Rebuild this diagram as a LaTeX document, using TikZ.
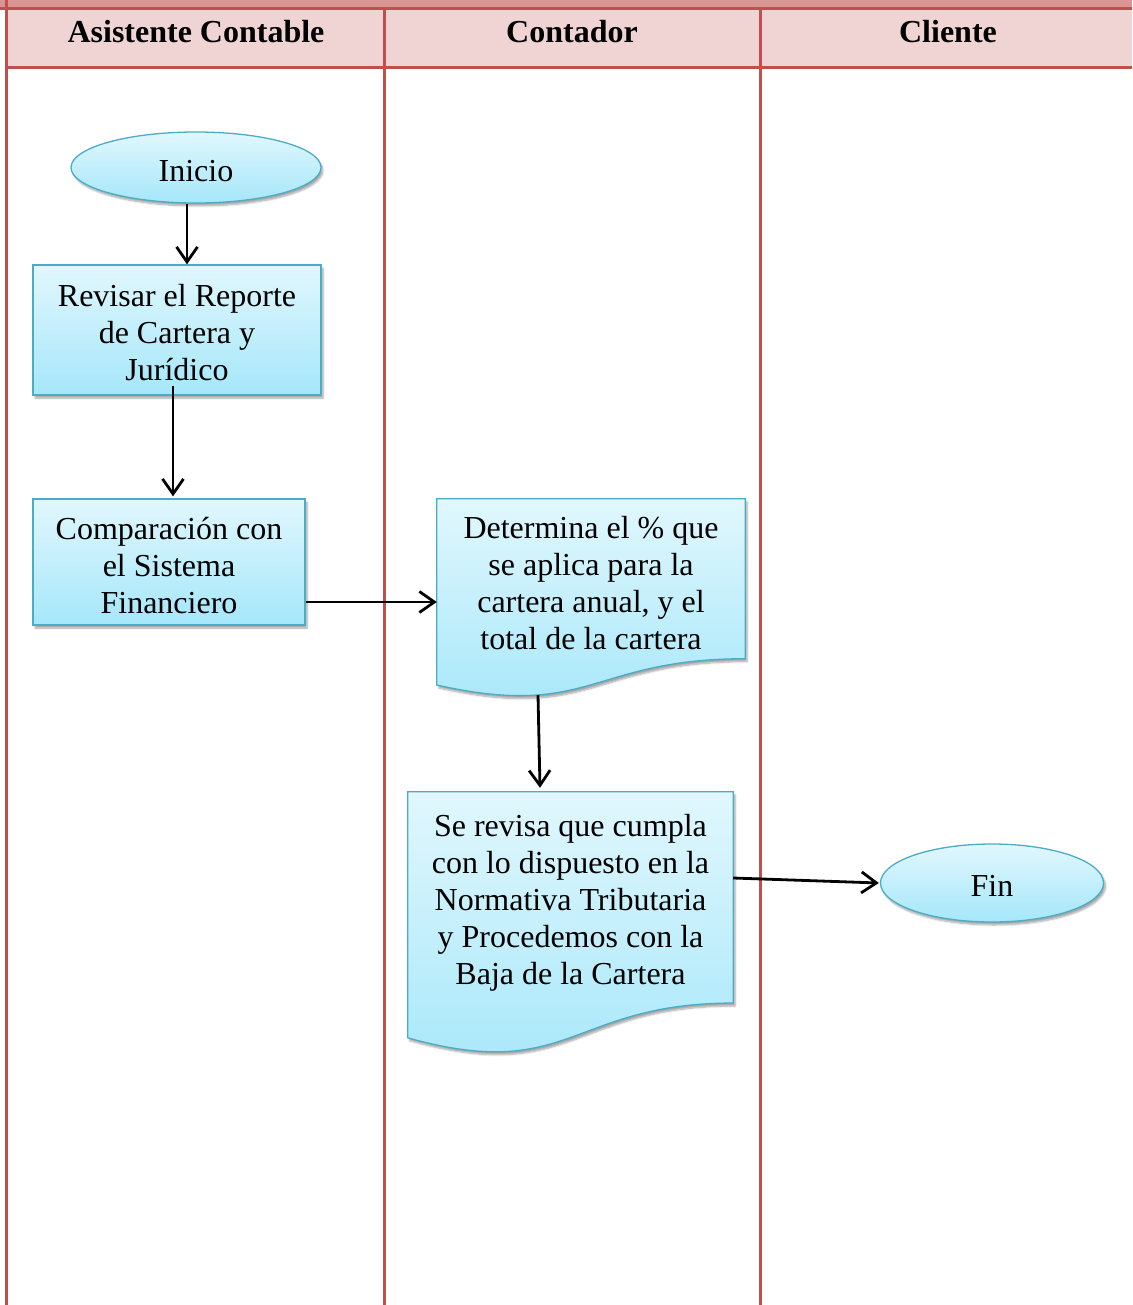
\documentclass[tikz,border=0pt]{standalone}
\usepackage{fontspec}
\setmainfont{Liberation Serif}
\usetikzlibrary{calc,shapes.geometric,arrows.meta,shadows.blur}

\definecolor{lanered}{HTML}{C0504D}
\definecolor{headfill}{HTML}{F0D3D3}
\definecolor{topband}{HTML}{D99594}
\definecolor{shapeblue}{HTML}{4BACC6}
\definecolor{shadetop}{HTML}{E1F7FD}
\definecolor{shadebot}{HTML}{A5E7FA}

\tikzset{
  laneline/.style={draw=lanered, line width=3pt},
  headtext/.style={font=\fontsize{32}{37}\selectfont\bfseries, anchor=center},
  flowfill/.style={draw=shapeblue, line width=1.3pt, top color=shadetop, bottom color=shadebot,
    blur shadow={shadow xshift=2pt, shadow yshift=-3pt, shadow blur steps=6, shadow opacity=35}},
  flowtext/.style={font=\fontsize{32}{37}\selectfont, align=center, inner sep=0pt},
  procbox/.style={flowfill, rectangle},
  terminal/.style={flowfill, ellipse},
  docframe/.style={rectangle, draw=none, inner sep=0pt},
  arr/.style={draw=black, line width=2.8pt, -{Straight Barb[length=15pt,width=21pt,line width=2.8pt]}},
}

% flowchart "document" symbol drawn over a framing rectangle node
\newcommand{\docshape}[1]{%
  \path[flowfill] (#1.north west) -- (#1.north east)
    -- ($(#1.north east)!0.802!(#1.south east)$)
    .. controls ($(#1.north)!0.802!(#1.south)$) and ($(#1.north)!1.107!(#1.south)$)
    .. ($(#1.north west)!0.934!(#1.south west)$) -- cycle;}

\begin{document}
\begin{tikzpicture}[x=1pt,y=-1pt]
\useasboundingbox (0,0) rectangle (1132,1305);

% header band and lane grid
\fill[topband] (0,0) rectangle (1132,7);
\fill[headfill] (7,10) rectangle (1132,68);
\draw[laneline] (0,8.5) -- (1132,8.5);
\draw[laneline] (6,68) -- (1132,68);
\draw[laneline] (6.5,0) -- (6.5,1305);
\draw[laneline] (384.5,8.5) -- (384.5,1305);
\draw[laneline] (760.5,8.5) -- (760.5,1305);

\node[headtext] (hA) at (196,32) {Asistente Contable};
\node[headtext] (hB) at (572,32) {Contador};
\node[headtext] (hC) at (948,32) {Cliente};

% process steps
\node[terminal, minimum width=250pt, minimum height=71pt] (inicio) at (196,167.5) {};
\node[flowtext] (inicioT) at (196,171.5) {Inicio};

\node[procbox, minimum width=288pt, minimum height=130pt] (rev) at (177,330) {};
\node[flowtext] (revT) at (177,332.5) {Revisar el Reporte\\de Cartera y\\Jurídico};

\node[procbox, minimum width=272pt, minimum height=126pt] (comp) at (169,562) {};
\node[flowtext] (compT) at (169,566) {Comparación con\\el Sistema\\Financiero};

\node[docframe, minimum width=308pt, minimum height=199pt] (det) at (591,598.5) {};
\docshape{det}
\node[flowtext] (detT) at (591,583.5) {Determina el \% que\\se aplica para la\\cartera anual, y el\\total de la cartera};

\node[docframe, minimum width=325pt, minimum height=263pt] (sev) at (570.5,923.5) {};
\docshape{sev}
\node[flowtext] (sevT) at (570.5,903) {Se revisa que cumpla\\con lo dispuesto en la\\Normativa Tributaria\\y Procedemos con la\\Baja de la Cartera};

\node[terminal, minimum width=223pt, minimum height=78pt] (fin) at (992,883) {};
\node[flowtext] (finT) at (992,886) {Fin};

% connectors
\coordinate (detB) at (538,695);
\draw[arr] ([xshift=-9pt]inicio.south) -- ([xshift=10pt]rev.north);
\draw[arr] ([xshift=-4pt,yshift=10pt]rev.south) -- ([xshift=4pt,yshift=2pt]comp.north);
\draw[arr] ([yshift=-40pt]comp.east) -- ([yshift=-3.5pt]det.west);
\draw[arr] (detB) -- ([xshift=-30.5pt,yshift=4pt]sev.north);
\draw[arr] ([yshift=45.5pt]sev.east) -- ([xshift=-1pt]fin.west);
\end{tikzpicture}
\end{document}
